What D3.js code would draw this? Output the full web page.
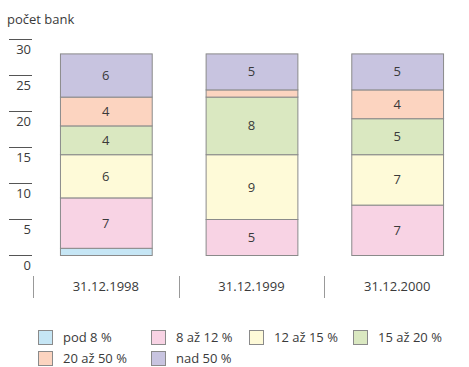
<!DOCTYPE html>
<html>
<head>
<meta charset="utf-8">
<script src="https://cdn.jsdelivr.net/npm/d3@7/dist/d3.min.js"></script>
<style>
  html, body { margin: 0; padding: 0; background: #fff; }
  svg text { font-family: "Open Sans", "Noto Sans", sans-serif; fill: #3a3a3a; }
</style>
</head>
<body>
<svg id="chart" width="469" height="367"></svg>
<script>
// Počet bank podle kapitálové přiměřenosti
const categories = ["31.12.1998", "31.12.1999", "31.12.2000"];
const seriesNames = ["pod 8 %", "8 až 12 %", "12 až 15 %", "15 až 20 %", "20 až 50 %", "nad 50 %"];
const seriesColors = ["#c6e6f5", "#f8d3e4", "#fefad8", "#dae8c1", "#fcd4c0", "#c8c4e0"];
const pod8 = [1, 0, 0];
const r8to12 = [7, 5, 7];
const r12to15 = [6, 9, 7];
const r15to20 = [4, 8, 5];
const r20to50 = [4, 1, 4];
const nad50 = [6, 5, 5];
const yTicks = [0, 5, 10, 15, 20, 25, 30];

const seriesValues = [pod8, r8to12, r12to15, r15to20, r20to50, nad50];
const table = categories.map((c, i) => {
  const row = { cat: c };
  seriesNames.forEach((s, j) => { row[s] = seriesValues[j][i]; });
  return row;
});

const svg = d3.select("#chart");

const x = d3.scaleBand().domain(categories).range([33, 470]).paddingInner(0.37).paddingOuter(0.185);
const y = d3.scaleLinear().domain([0, 30]).range([255, 39]);

// osa Y: krátké čárky nad popisky
const yAxis = svg.append("g");
yAxis.selectAll("line").data(yTicks).join("line")
  .attr("x1", 9).attr("x2", 32)
  .attr("y1", d => Math.round(y(d)) + 0.5).attr("y2", d => Math.round(y(d)) + 0.5)
  .attr("stroke", "#555").attr("stroke-width", 1);
yAxis.selectAll("text").data(yTicks).join("text")
  .attr("x", 31).attr("y", d => y(d) + 15)
  .attr("text-anchor", "end").attr("font-size", 13)
  .text(d => d);

svg.append("text").attr("x", 7).attr("y", 24).attr("font-size", 13).text("počet bank");

// skládané sloupce
const stack = d3.stack().keys(seriesNames);
const layers = stack(table);
const gBars = svg.append("g");
layers.forEach((layer, j) => {
  const g = gBars.append("g");
  layer.forEach(d => {
    const v = d[1] - d[0];
    if (v <= 0) return;
    g.append("rect")
      .attr("x", x(d.data.cat) + 0.5)
      .attr("y", y(d[1]) + 0.5)
      .attr("width", x.bandwidth())
      .attr("height", y(d[0]) - y(d[1]))
      .attr("fill", seriesColors[j])
      .attr("stroke", "#8a8a8a")
      .attr("stroke-width", 1);
    if (v >= 2) {
      g.append("text")
        .attr("x", x(d.data.cat) + x.bandwidth() / 2)
        .attr("y", (y(d[0]) + y(d[1])) / 2 + 5)
        .attr("text-anchor", "middle").attr("font-size", 13)
        .text(v);
    }
  });
});

// osa X: svislé oddělovače a popisky kategorií
const xAxis = svg.append("g");
xAxis.selectAll("line").data(categories).join("line")
  .attr("x1", d => Math.round(x(d) - x.step() * x.paddingOuter()) + 0.5)
  .attr("x2", d => Math.round(x(d) - x.step() * x.paddingOuter()) + 0.5)
  .attr("y1", 276).attr("y2", 298)
  .attr("stroke", "#999").attr("stroke-width", 1);
xAxis.selectAll("text").data(categories).join("text")
  .attr("x", d => x(d) + x.bandwidth() / 2).attr("y", 291)
  .attr("text-anchor", "middle").attr("font-size", 13)
  .text(d => d);

// legenda
const legendPos = [[38, 330], [151, 330], [249, 330], [353, 330], [38, 351], [151, 351]];
const legend = svg.append("g");
seriesNames.forEach((s, j) => {
  const [lx, ly] = legendPos[j];
  legend.append("rect")
    .attr("x", lx + 0.5).attr("y", ly + 0.5).attr("width", 14).attr("height", 14)
    .attr("fill", seriesColors[j]).attr("stroke", "#8a8a8a");
  legend.append("text")
    .attr("x", lx + 25).attr("y", ly + 12).attr("font-size", 13)
    .text(s);
});
</script>
</body>
</html>
